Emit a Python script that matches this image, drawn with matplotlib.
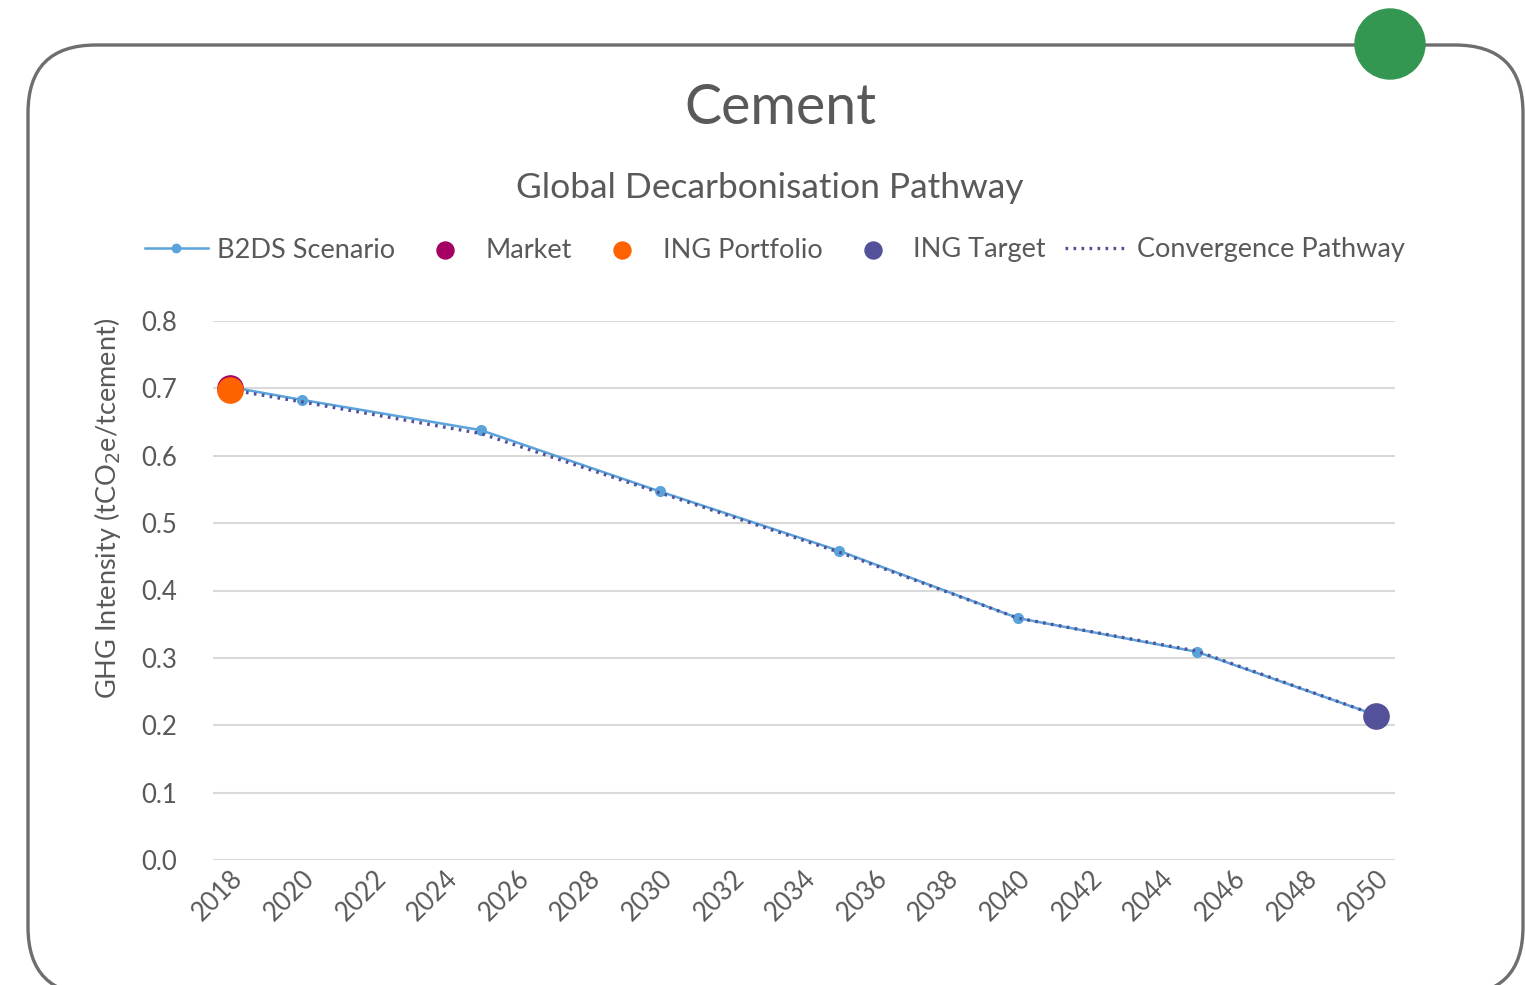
import matplotlib
matplotlib.use("Agg")
import matplotlib.pyplot as plt
from matplotlib.patches import FancyBboxPatch, Circle

plt.rcParams['font.family'] = ['Lato', 'DejaVu Sans']

# data
years_b2ds = [2018, 2020, 2025, 2030, 2035, 2040, 2045, 2050]
b2ds = [0.702, 0.683, 0.638, 0.547, 0.459, 0.359, 0.309, 0.215]
years_conv = [2018, 2020, 2025, 2030, 2035, 2040, 2045, 2050]
conv = [0.698, 0.680, 0.633, 0.545, 0.457, 0.359, 0.310, 0.215]
market_year, market_val = [2018], [0.701]
portfolio_year, portfolio_val = [2018], [0.697]
target_year, target_val = [2050], [0.214]
xticks = list(range(2018, 2051, 2))
yticks = [0.0, 0.1, 0.2, 0.3, 0.4, 0.5, 0.6, 0.7, 0.8]

txt = '#595959'
W, H = 1525, 985
fig = plt.figure(figsize=(W / 100, H / 100), dpi=100)

# background frame
bg = fig.add_axes([0, 0, 1, 1], zorder=0)
bg.set_xlim(0, W)
bg.set_ylim(H, 0)
bg.axis('off')
bg.add_patch(FancyBboxPatch((28, 45), 1495, 950, boxstyle="round,pad=0,rounding_size=68",
                            fc='white', ec='#6e6e6e', lw=2.4))
bg.add_patch(Circle((1390, 44), 35, color='#339752', zorder=5))

ax = fig.add_axes([213 / W, 1 - 860 / H, (1395 - 213) / W, (860 - 321) / H], zorder=1)
ax.patch.set_alpha(0)

ax.plot(years_b2ds, b2ds, color='#5BA3DB', lw=1.8, marker='o', ms=7, label='B2DS Scenario', zorder=3)
ax.scatter(market_year, market_val, s=330, color='#A50063', label='Market', zorder=4)
ax.scatter(portfolio_year, portfolio_val, s=330, color='#FF6200', label='ING Portfolio', zorder=5)
ax.scatter(target_year, target_val, s=330, color='#525199', label='ING Target', zorder=5)
ax.plot(years_conv, conv, color='#525199', lw=2.4, ls=(0, (0.8, 1.6)), label='Convergence Pathway', zorder=4)

ax.set_xlim(2017.52, 2050.53)
ax.set_ylim(0, 0.8)
ax.set_xticks(xticks)
ax.set_yticks(yticks)
ax.set_yticklabels([f'{v:.1f}' for v in yticks])
ax.tick_params(axis='x', labelrotation=45, length=0, labelsize=18.5, colors=txt, pad=4)
ax.tick_params(axis='y', length=0, labelsize=18.5, colors=txt, pad=26)
for lab in ax.get_xticklabels():
    lab.set_ha('right')
    lab.set_rotation_mode('anchor')
ax.grid(axis='y', color='#d9d9d9', lw=1.5)
ax.set_axisbelow(True)
for s in ax.spines.values():
    s.set_visible(False)

ax.set_ylabel('GHG Intensity (tCO$_2$e/tcement)', fontsize=19.5, color=txt)
ax.yaxis.set_label_coords((123 - 213) / (1395 - 213), (860 - 508) / (860 - 321))

fig.text(780 / W, 1 - 109 / H, 'Cement', ha='center', va='center', fontsize=40, color=txt)
fig.text(770 / W, 1 - 188 / H, 'Global Decarbonisation Pathway', ha='center', va='center',
         fontsize=25.5, color=txt)

handles, labels = ax.get_legend_handles_labels()
leg = fig.legend(handles, labels, loc='center', bbox_to_anchor=(775 / W, 1 - 250 / H), ncol=5,
                 frameon=False, fontsize=19.5, labelcolor=txt, handlelength=2.3,
                 columnspacing=0.7, handletextpad=0.35)
for h in leg.legend_handles[1:4]:
    h.set_sizes([150])
leg.legend_handles[0].set_markersize(6)
for t in leg.get_texts():
    t.set_color(txt)

fig.savefig('out.png', dpi=100)
